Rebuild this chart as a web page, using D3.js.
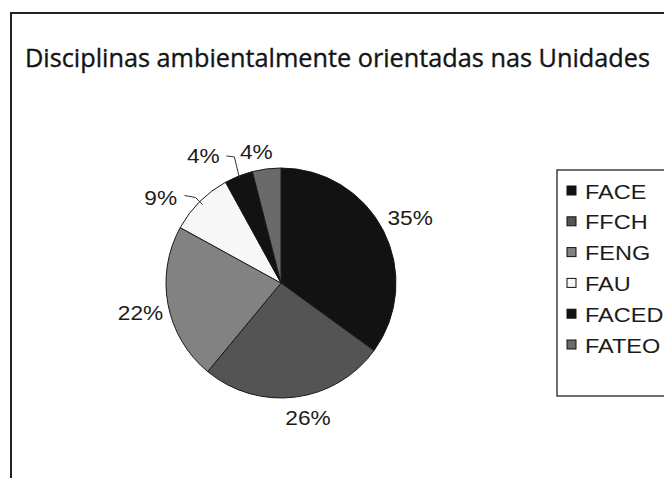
<!DOCTYPE html>
<html><head><meta charset="utf-8">
<script src="https://cdn.jsdelivr.net/npm/d3@7"></script>
<style>body{margin:0;background:#fff}svg{display:block}</style>
</head><body>
<script>
const title = "Disciplinas ambientalmente orientadas nas Unidades";
const categories = ["FACE","FFCH","FENG","FAU","FACED","FATEO"];
const values = [35,26,22,9,4,4];
const labels = ["35%","26%","22%","9%","4%","4%"];
const colors = ["#121212","#545454","#828282","#f7f7f7","#121212","#6a6a6a"];

const W=664,H=478;
const svg=d3.select("body").append("svg").attr("width",W).attr("height",H);
svg.append("rect").attr("width",W).attr("height",H).attr("fill","#fff");
// outer frame (extends beyond view)
svg.append("rect").attr("x",11).attr("y",13).attr("width",700).attr("height",520)
  .attr("fill","none").attr("stroke","#222").attr("stroke-width",2);

svg.append("text").attr("x",25).attr("y",67).text(title)
  .attr("font-family","Open Sans, Noto Sans, sans-serif").attr("font-size",25)
  .attr("fill","#141414").attr("stroke","#141414").attr("stroke-width",0.35)
  .attr("textLength",625).attr("lengthAdjust","spacingAndGlyphs");

const cx=281,cy=283,r=115;
const pie=d3.pie().sort(null).value(d=>d)(values);
const arc=d3.arc().innerRadius(0).outerRadius(r);
const g=svg.append("g").attr("transform",`translate(${cx},${cy})`);
g.selectAll("path").data(pie).join("path").attr("d",arc)
  .attr("fill",(d,i)=>colors[i]).attr("stroke","#1a1a1a").attr("stroke-width",1);

const font="Liberation Sans, Arial, sans-serif";
const FS=21, SX=1.08;
function polar(a,rad){return [cx+Math.sin(a)*rad, cy-Math.cos(a)*rad];}
const mids = pie.map(d=>(d.startAngle+d.endAngle)/2);
const rads=[145,136,143,132,135,133];
const offsets=[[0,0],[10,0],[0,3],[-27,8],[-28,-2],[-8,0]];
const labG=svg.append("g").attr("font-family",font).attr("font-size",FS).attr("fill","#1c1c1c");
pie.forEach((d,i)=>{
  const [x,y]=polar(mids[i],rads[i]);
  labG.append("text")
    .attr("transform",`translate(${x+offsets[i][0]},${y+offsets[i][1]}) scale(${SX},1)`)
    .attr("dy","0.36em").attr("text-anchor","middle").text(labels[i]);
});
// leader lines for 9% and left 4%
const ln=svg.append("g").attr("fill","none").attr("stroke","#333").attr("stroke-width",1);
{
  const p=polar(mids[3],r-4);
  ln.append("path").attr("d",`M${p[0]},${p[1]} L${p[0]-7},${p[1]-7} L${p[0]-18},${p[1]-9}`);
  const q=polar(mids[4],r-2);
  ln.append("path").attr("d",`M${q[0]},${q[1]} L${q[0]-5},${q[1]-21} L${q[0]-13},${q[1]-22}`);
}

// legend
const lg=svg.append("g");
lg.append("rect").attr("x",557).attr("y",170).attr("width",130).attr("height",226)
  .attr("fill","#fff").attr("stroke","#222").attr("stroke-width",1.3);
const ly=d3.scalePoint().domain(categories).range([191,345]);
categories.forEach((c,i)=>{
  lg.append("rect").attr("x",567).attr("y",ly(c)-5).attr("width",9).attr("height",9)
    .attr("fill",colors[i]).attr("stroke","#111").attr("stroke-width",1);
  lg.append("text").attr("transform",`translate(585,${ly(c)}) scale(1.12,1)`).attr("dy","0.36em")
    .attr("font-family",font).attr("font-size",FS).attr("fill","#1c1c1c").text(c);
});
</script>
</body></html>
